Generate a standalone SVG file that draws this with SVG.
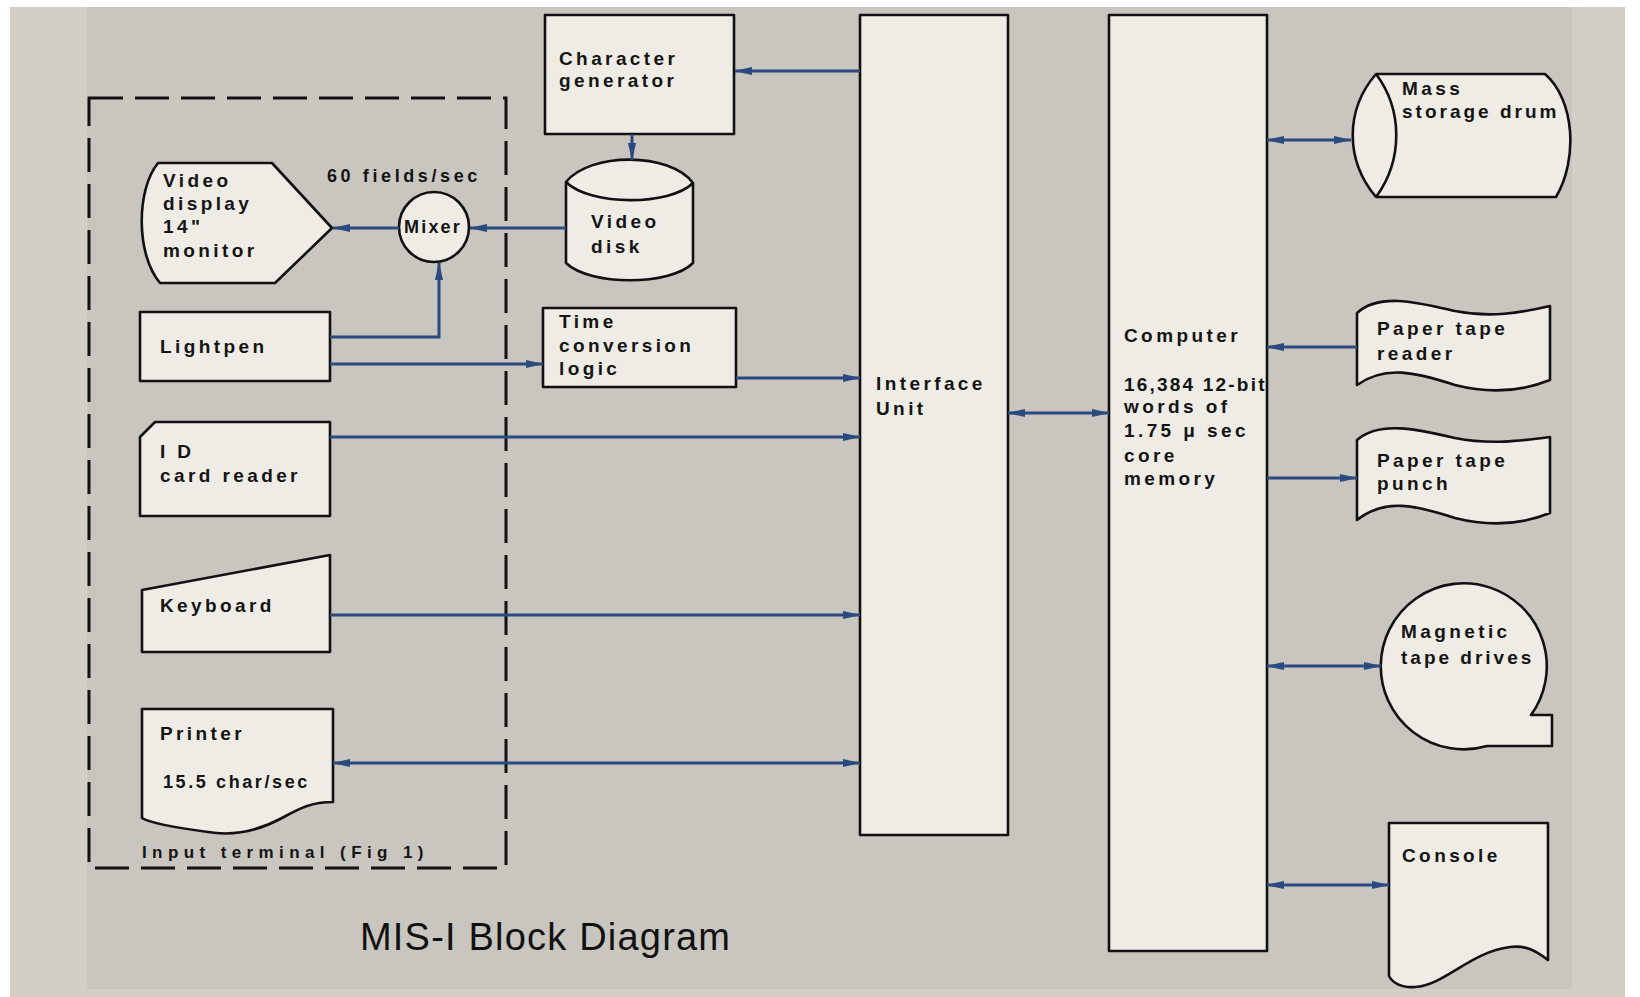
<svg xmlns="http://www.w3.org/2000/svg" width="1640" height="997" viewBox="0 0 1640 997">
<defs>
<style>
.bg{fill:#d3cec6}
.page{fill:#c9c5bf}
.shape{fill:#efece6;stroke:#111;stroke-width:2.6;stroke-linejoin:round}
.line{fill:none;stroke:#111;stroke-width:2.6}
.lbl{font-family:"Liberation Sans",Arial,sans-serif;font-weight:bold;font-size:19px;letter-spacing:3.4px;fill:#141414}
.conn{fill:none;stroke:#2b4a7e;stroke-width:3}
.dash{fill:none;stroke:#111;stroke-width:3;stroke-dasharray:34 12}
.title{font-family:"Liberation Sans",Arial,sans-serif;font-size:38px;letter-spacing:1.2px;fill:#111}
</style>
<marker id="ah" viewBox="0 0 18 10" refX="17" refY="5" markerWidth="18" markerHeight="10" markerUnits="userSpaceOnUse" orient="auto-start-reverse">
<path d="M0,1 L18,5 L0,9 Z" fill="#2b4a7e"/>
</marker>
</defs>
<rect x="0" y="0" width="1640" height="997" fill="#ffffff"/>
<rect class="bg" x="10" y="7" width="1615" height="990"/>
<rect class="page" x="87" y="7" width="1485" height="982"/>

<g id="input-terminal">
<rect class="dash" x="89" y="98" width="417" height="770"/>
<text class="lbl" x="142" y="858" style="font-size:17px;letter-spacing:5.4px">Input terminal (Fig 1)</text>
</g>

<g id="video-display">
<path class="shape" d="M158,163 L272,163 L332,228 L275,283 L160,283 C136,255 136,190 158,163 Z"/>
<text class="lbl" x="163" y="187">Video</text>
<text class="lbl" x="163" y="210">display</text>
<text class="lbl" x="163" y="233">14"</text>
<text class="lbl" x="163" y="257">monitor</text>
</g>

<g id="mixer">
<circle class="shape" cx="434" cy="227" r="35"/>
<text class="lbl" x="404" y="233" style="font-size:18px;letter-spacing:2.2px">Mixer</text>
<text class="lbl" x="327" y="182" style="font-size:18px;letter-spacing:3.6px">60 fields/sec</text>
</g>

<g id="lightpen">
<rect class="shape" x="140" y="312" width="190" height="69"/>
<text class="lbl" x="160" y="353">Lightpen</text>
</g>

<g id="id-card-reader">
<path class="shape" d="M155,422 L330,422 L330,516 L140,516 L140,437 Z"/>
<text class="lbl" x="160" y="458">I D</text>
<text class="lbl" x="160" y="482">card reader</text>
</g>

<g id="keyboard">
<path class="shape" d="M142,590 L330,555 L330,652 L142,652 Z"/>
<text class="lbl" x="160" y="612">Keyboard</text>
</g>

<g id="printer">
<path class="shape" d="M142,709 L333,709 L333,802 C312,802 300,808 282,818 C258,831 232,836 208,832 C178,828 152,824 142,818 Z"/>
<text class="lbl" x="160" y="740">Printer</text>
<text class="lbl" x="163" y="788" style="font-size:18px;letter-spacing:2.6px">15.5 char/sec</text>
</g>

<g id="character-generator">
<rect class="shape" x="545" y="15" width="189" height="119"/>
<text class="lbl" x="559" y="65">Character</text>
<text class="lbl" x="559" y="87">generator</text>
</g>

<g id="video-disk">
<path class="shape" d="M566,182 C590,152 670,152 693,183 L693,263 C670,286 590,286 566,263 Z"/>
<path class="line" d="M566,182 C590,206 670,206 693,183"/>
<text class="lbl" x="591" y="228">Video</text>
<text class="lbl" x="591" y="253">disk</text>
</g>

<g id="time-conversion-logic">
<rect class="shape" x="543" y="308" width="193" height="79"/>
<text class="lbl" x="559" y="328">Time</text>
<text class="lbl" x="559" y="352">conversion</text>
<text class="lbl" x="559" y="375">logic</text>
</g>

<g id="interface-unit">
<rect class="shape" x="860" y="15" width="148" height="820"/>
<text class="lbl" x="876" y="390">Interface</text>
<text class="lbl" x="876" y="415">Unit</text>
</g>

<g id="computer">
<rect class="shape" x="1109" y="15" width="158" height="936"/>
<text class="lbl" x="1124" y="342">Computer</text>
<text class="lbl" x="1124" y="391" style="letter-spacing:2.2px">16,384 12-bit</text>
<text class="lbl" x="1124" y="413">words of</text>
<text class="lbl" x="1124" y="437">1.75 μ sec</text>
<text class="lbl" x="1124" y="462">core</text>
<text class="lbl" x="1124" y="485">memory</text>
</g>

<g id="mass-storage-drum">
<path class="shape" d="M1376,74 L1545,74 C1575,100 1578,160 1556,197 L1376,197 C1345,160 1345,110 1376,74 Z"/>
<path class="line" d="M1376,74 C1403,110 1403,160 1376,197"/>
<text class="lbl" x="1402" y="95">Mass</text>
<text class="lbl" x="1402" y="118" style="letter-spacing:3px">storage drum</text>
</g>

<g id="paper-tape-reader">
<path class="shape" d="M1357,313 C1380,292 1420,303 1455,311 C1490,318 1520,313 1550,306 L1550,380 C1520,392 1490,394 1455,385 C1415,372 1385,365 1357,385 Z"/>
<text class="lbl" x="1377" y="335">Paper tape</text>
<text class="lbl" x="1377" y="360">reader</text>
</g>

<g id="paper-tape-punch">
<path class="shape" d="M1357,440 C1380,420 1420,430 1455,438 C1490,445 1520,441 1550,437 L1550,513 C1520,525 1490,527 1455,518 C1415,505 1385,498 1357,520 Z"/>
<text class="lbl" x="1377" y="467">Paper tape</text>
<text class="lbl" x="1377" y="490">punch</text>
</g>

<g id="magnetic-tape-drives">
<path class="shape" d="M1531,715 L1552,715 L1552,746 L1487,746 A83,83 0 1 1 1531,715 Z"/>
<text class="lbl" x="1401" y="638">Magnetic</text>
<text class="lbl" x="1401" y="664" style="letter-spacing:3px">tape drives</text>
</g>

<g id="console">
<path class="shape" d="M1389,823 L1548,823 L1548,960 C1535,950 1525,945 1510,947 C1470,952 1445,985 1415,987 C1400,988 1392,982 1389,976 Z"/>
<text class="lbl" x="1402" y="862">Console</text>
</g>

<g id="connectors">
<path class="conn" d="M860,71 L735,71" marker-end="url(#ah)"/>
<path class="conn" d="M632,134 L632,160" marker-end="url(#ah)"/>
<path class="conn" d="M566,228 L470,228" marker-end="url(#ah)"/>
<path class="conn" d="M399,228 L333,228" marker-end="url(#ah)"/>
<path class="conn" d="M330,337 L439,337 L439,263" marker-end="url(#ah)"/>
<path class="conn" d="M330,364 L543,364" marker-end="url(#ah)"/>
<path class="conn" d="M736,378 L860,378" marker-end="url(#ah)"/>
<path class="conn" d="M330,437 L860,437" marker-end="url(#ah)"/>
<path class="conn" d="M330,615 L860,615" marker-end="url(#ah)"/>
<path class="conn" d="M333,763 L860,763" marker-start="url(#ah)" marker-end="url(#ah)"/>
<path class="conn" d="M1008,413 L1109,413" marker-start="url(#ah)" marker-end="url(#ah)"/>
<path class="conn" d="M1267,140 L1351,140" marker-start="url(#ah)" marker-end="url(#ah)"/>
<path class="conn" d="M1357,347 L1267,347" marker-end="url(#ah)"/>
<path class="conn" d="M1267,478 L1357,478" marker-end="url(#ah)"/>
<path class="conn" d="M1267,666 L1381,666" marker-start="url(#ah)" marker-end="url(#ah)"/>
<path class="conn" d="M1267,885 L1389,885" marker-start="url(#ah)" marker-end="url(#ah)"/>
</g>

<text class="title" x="360" y="950">MIS-I Block Diagram</text>
</svg>
